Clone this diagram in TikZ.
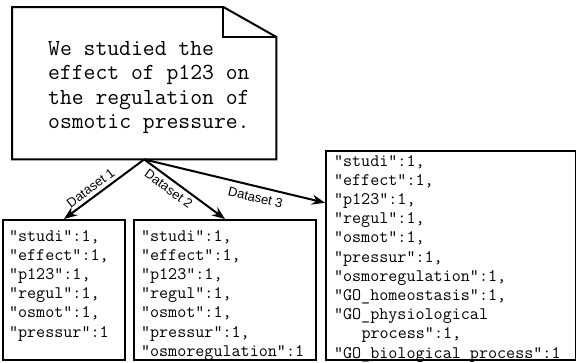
\documentclass[tikz,border=0pt]{standalone}
\usepackage{fontspec}
\usetikzlibrary{arrows.meta,calc}
\newfontfamily\labfont{Liberation Sans}
\newcommand\notetext[1]{\parbox[c][152pt][t]{264pt}{\ttfamily\fontsize{23}{24.5}\selectfont\leftskip=36pt\relax #1}}
\newcommand\codebox[4]{\parbox[c][#2][t]{#1}{\ttfamily\fontsize{17.6}{19.2}\selectfont\leftskip=#3\relax #4}}
\begin{document}
\begin{tikzpicture}[x=1pt,y=-1pt,
  outline/.style={line width=2pt,line join=miter},
  codenode/.style={draw,line width=2pt,inner sep=0pt,anchor=north west},
  conn/.style={line width=2pt,-{Stealth[length=13pt,width=10pt]}},
  dlabel/.style={font=\labfont\fontsize{13}{13}\selectfont,sloped,inner sep=3.5pt}]
\useasboundingbox (0,0) rectangle (576,362);
% note
\node[inner sep=0pt,anchor=north west] (note) at (12,7)
  {\notetext{\rule{0pt}{48pt}We studied the\\effect of p123 on\\the regulation of\\osmotic pressure.}};
\draw[outline] (note.north west) -- ([xshift=-53pt]note.north east)
  -- ([yshift=-30pt]note.north east) -- (note.south east)
  -- (note.south west) -- cycle;
\draw[outline] ([xshift=-53pt]note.north east) -- ([xshift=-53pt,yshift=-30pt]note.north east)
  -- ([yshift=-30pt]note.north east);
% boxes
\node[codenode] (b1) at (2,219) {\codebox{122pt}{140pt}{6pt}{\rule{0pt}{21pt}"studi”:1,\\“effect”:1,\\“p123”:1,\\“regul”:1,\\"osmot”:1,\\"pressur”:1}};
\node[codenode] (b2) at (133,219) {\codebox{182pt}{140pt}{7pt}{\rule{0pt}{21pt}"studi”:1,\\“effect”:1,\\“p123”:1,\\“regul”:1,\\"osmot”:1,\\"pressur”:1,\\"osmoregulation":1}};
\node[codenode] (b3) at (325,150) {\codebox{250pt}{209pt}{8pt}{\rule{0pt}{15pt}"studi”:1,\\“effect”:1,\\“p123”:1,\\“regul”:1,\\"osmot”:1,\\"pressur”:1,\\"osmoregulation":1,\\"GO\_homeostasis":1,\\"GO\_physiological\\\hspace*{27.5pt}process":1,\\"GO\_biological process":1}};
% connectors
\draw[conn] (note.south) -- node[dlabel,above,pos=0.6] {Dataset 1} (b1.north);
\draw[conn] (note.south) -- node[dlabel,below,pos=0.37] {Dataset 2} (b2.north);
\draw[conn] (note.south) -- node[dlabel,below,pos=0.63,inner sep=5.5pt] {Dataset 3} ($(b3.north west)!0.25!(b3.south west)$);
\end{tikzpicture}
\end{document}
